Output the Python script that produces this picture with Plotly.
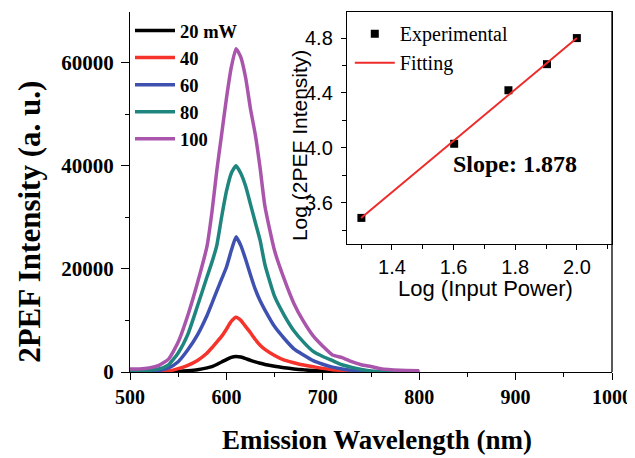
import plotly.graph_objects as go

# ---------------- data ----------------
wavelength = [500, 510, 520, 530, 540, 550, 560, 570, 580, 585, 590, 595, 600, 605, 610,
              615, 620, 625, 630, 635, 640, 650, 660, 670, 680, 690, 700, 710, 720, 730,
              740, 750, 760, 780, 800]

i_20 = [0, 0, 0, 0, 30, 100, 250, 450, 800, 1050, 1450, 1950, 2400, 2850, 3020,
        2900, 2600, 2250, 1950, 1700, 1450, 1100, 830, 600, 420, 300, 200, 100, 50, 0,
        0, 0, 0, 0, 0]
i_40 = [0, 0, 0, 50, 200, 650, 1300, 2250, 3700, 4700, 5800, 6900, 8300, 9800, 10600,
        10000, 8800, 7600, 6300, 5200, 4400, 3200, 2300, 1800, 1350, 1000, 700, 450, 280, 150,
        80, 30, 0, 0, 0]
i_60 = [200, 150, 150, 300, 800, 2000, 4300, 7200, 11000, 13300, 15700, 18000, 20300, 23500, 26200,
        24500, 21800, 18800, 16000, 13800, 12000, 8800, 6500, 4500, 3300, 2200, 1500, 950, 600, 350,
        200, 100, 50, 0, 0]
i_80 = [300, 300, 350, 600, 1400, 3700, 7300, 12800, 18500, 21300, 24500, 30000, 35000, 38500, 40000,
        38500, 36000, 32500, 29000, 25500, 20800, 14650, 11000, 8000, 5800, 4000, 3000, 2200, 1400, 900,
        500, 200, 100, 50, 0]
i_100 = [600, 600, 800, 1300, 2500, 5800, 11000, 17300, 24500, 31000, 39000, 46000, 53000, 59000, 62700,
         61000, 57000, 51000, 46000, 39500, 32100, 23500, 18000, 13300, 9800, 7000, 5000, 3300, 2800, 2000,
         1400, 1050, 650, 350, 250]

series_names = ["20 mW", "40", "60", "80", "100"]
series_values = [i_20, i_40, i_60, i_80, i_100]
series_colors = ["#000000", "#f5332b", "#3f51b0", "#1f857f", "#a955ab"]

log_power = [1.301, 1.602, 1.778, 1.903, 2.0]
log_intensity = [3.49, 4.03, 4.42, 4.61, 4.80]
fit_x = [1.30, 2.00]
fit_y = [3.49, 4.80]

serif = "Liberation Serif"
sans = "Liberation Sans"

fig = go.Figure()

for name, vals, col in zip(series_names, series_values, series_colors):
    fig.add_trace(go.Scatter(x=wavelength, y=vals, mode="lines", name=name,
                             line=dict(color=col, width=3.5, shape="spline", smoothing=0.5),
                             legend="legend"))

fig.add_trace(go.Scatter(x=log_power, y=log_intensity, mode="markers", name="Experimental",
                         marker=dict(symbol="square", size=8, color="black"),
                         xaxis="x2", yaxis="y2", legend="legend2"))
fig.add_trace(go.Scatter(x=fit_x, y=fit_y, mode="lines", name="Fitting",
                         line=dict(color="#ee2b2b", width=2),
                         xaxis="x2", yaxis="y2", legend="legend2"))

# page body has an 8px default margin: figure is sized to fill the rest of the window
fig.update_layout(
    width=627, height=450,
    margin=dict(l=122, r=23, t=4, b=86),
    paper_bgcolor="white", plot_bgcolor="white",
    showlegend=True,
    xaxis=dict(range=[500, 1000], showgrid=False, zeroline=False, showline=True,
               automargin=False,
               linecolor="black", linewidth=1.3, ticks="outside", ticklen=7,
               tickcolor="black", dtick=100, tick0=500,
               tickfont=dict(family=serif, size=20, color="black", weight="bold"),
               minor=dict(ticks="outside", ticklen=4, dtick=50, tickcolor="black")),
    yaxis=dict(range=[0, 69800], showgrid=False, zeroline=False, showline=True,
               automargin=False,
               linecolor="black", linewidth=1.3, ticks="outside", ticklen=8,
               tickcolor="black", dtick=20000, tick0=0, tickformat="d",
               ticklabelstandoff=3,
               tickfont=dict(family=serif, size=21, color="black", weight="bold"),
               minor=dict(ticks="outside", ticklen=4, dtick=10000, tickcolor="black")),
    xaxis2=dict(domain=[0.450, 1.0], anchor="y2", range=[1.254, 2.114], automargin=False,
                showgrid=False, zeroline=False, showline=True, mirror=True,
                linecolor="black", linewidth=1.2, ticks="outside", ticklen=5,
                tickcolor="black", dtick=0.2, tick0=1.4, tickformat=".1f",
                tickfont=dict(family=sans, size=20, color="black"),
                minor=dict(ticks="outside", ticklen=4, dtick=0.1, tick0=1.3, tickcolor="black")),
    yaxis2=dict(domain=[0.3556, 1.0], anchor="x2", range=[3.30, 4.99], automargin=False,
                showgrid=False, zeroline=False, showline=True, mirror=True,
                linecolor="black", linewidth=1.2, ticks="outside", ticklen=5,
                tickcolor="black", dtick=0.4, tick0=3.6, tickformat=".1f",
                ticklabelstandoff=4,
                tickfont=dict(family=sans, size=20, color="black"),
                minor=dict(ticks="outside", ticklen=4, dtick=0.2, tick0=3.4, tickcolor="black")),
    legend=dict(x=0.0, y=1.0, xanchor="left", yanchor="top", bgcolor="rgba(0,0,0,0)",
                font=dict(family=serif, size=18.5, color="black", weight="bold"),
                itemwidth=40, tracegroupgap=0),
    legend2=dict(x=0.456, y=0.994, xanchor="left", yanchor="top", bgcolor="rgba(0,0,0,0)",
                 font=dict(family=serif, size=20, color="black"),
                 itemwidth=40, tracegroupgap=0),
    shapes=[dict(type="line", xref="paper", yref="paper", x0=1, x1=1, y0=0, y1=1,
                 line=dict(color="black", width=1.3))],
    annotations=[
        dict(text="Emission Wavelength (nm)", xref="paper", yref="paper", x=0.512, y=-0.189,
             xanchor="center", yanchor="middle", showarrow=False,
             font=dict(family=serif, size=27, color="black", weight="bold")),
        dict(text="2PEF Intensity (a. u.)", xref="paper", yref="paper", x=-0.2075, y=0.417,
             xanchor="center", yanchor="middle", showarrow=False, textangle=-90,
             font=dict(family=serif, size=31, color="black", weight="bold")),
        dict(text="Log (Input Power)", xref="paper", yref="paper", x=0.737, y=0.2306,
             xanchor="center", yanchor="middle", showarrow=False,
             font=dict(family=sans, size=22, color="black")),
        dict(text="Log (2PEF Intensity)", xref="paper", yref="paper", x=0.353, y=0.628,
             xanchor="center", yanchor="middle", showarrow=False, textangle=-90,
             font=dict(family=sans, size=21, color="black")),
        dict(text="Slope: 1.878", xref="x2", yref="y2", x=1.798, y=3.884,
             xanchor="center", yanchor="middle", showarrow=False,
             font=dict(family=serif, size=24, color="black", weight="bold")),
    ],
)

fig.write_html("out.html")
